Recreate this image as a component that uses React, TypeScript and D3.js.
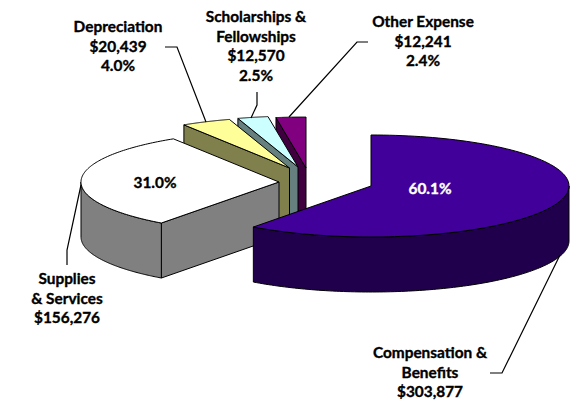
import React from "react";
import * as d3 from "d3";

const categories = ["Compensation & Benefits", "Supplies & Services", "Depreciation", "Scholarships & Fellowships", "Other Expense"];
const values = [303877, 156276, 20439, 12570, 12241];
const topColors = ["#400099", "#ffffff", "#ffff99", "#ccffff", "#800080"];
const sideColors = ["#20004d", "#808080", "#80804d", "#668080", "#400040"];
const apexX = [371, 279, 289.5, 298, 306];
const apexY = [186, 182, 168, 167, 168];
const labelLines = [
  { x: 430, y: 358, lines: ["Compensation &", "Benefits", "$303,877"], fill: "#000" },
  { x: 67, y: 284, lines: ["Supplies", "& Services", "$156,276"], fill: "#000" },
  { x: 118, y: 32, lines: ["Depreciation", "$20,439", "4.0%"], fill: "#000" },
  { x: 256, y: 22, lines: ["Scholarships &", "Fellowships", "$12,570", "2.5%"], fill: "#000" },
  { x: 423, y: 27, lines: ["Other Expense", "$12,241", "2.4%"], fill: "#000" },
  { x: 430, y: 194, lines: ["60.1%"], fill: "#fff" },
  { x: 155, y: 188, lines: ["31.0%"], fill: "#000" },
];
const leaders: [number, number][][] = [
  [[490, 373], [502, 373], [560, 255]],
  [[81, 185], [67, 250], [67, 265]],
  [[165, 47], [177, 47], [206, 122]],
  [[257, 92], [257, 105], [251, 118]],
  [[368, 42], [357, 42], [289, 117]],
];

const RX = 198;
const RY = 51;
const DEPTH = 55;
const font = "Lato, 'Open Sans', sans-serif";

const pie = d3.pie<number>().sort(null);
const arcs = pie(values);
const lineGen = d3.line<[number, number]>();

const pt = (i: number, a: number): [number, number] => [
  apexX[i] + RX * Math.sin(a),
  apexY[i] - RY * Math.cos(a),
];

function topPath(i: number) {
  const { startAngle, endAngle } = arcs[i];
  const pts = d3.range(0, 121).map((k) => pt(i, startAngle + ((endAngle - startAngle) * k) / 120));
  return lineGen([[apexX[i], apexY[i]], ...pts]) + "Z";
}
function outerWall(i: number, a0: number, a1: number) {
  const upper = d3.range(0, 121).map((k) => pt(i, a0 + ((a1 - a0) * k) / 120));
  const lower = upper.map(([x, y]) => [x, y + DEPTH] as [number, number]).reverse();
  return lineGen([...upper, ...lower]) + "Z";
}
function cutFace(i: number, a: number) {
  const [x, y] = pt(i, a);
  return lineGen([
    [apexX[i], apexY[i]],
    [x, y],
    [x, y + DEPTH],
    [apexX[i], apexY[i] + DEPTH],
  ]) + "Z";
}

const paintOrder = [4, 3, 2, 1, 0];

export default function App() {
  return (
    <svg
      width={576}
      height={403}
      style={{ position: "absolute", left: 0, top: 0, background: "#fff" }}
    >
      {paintOrder.map((i) => {
        const { startAngle, endAngle } = arcs[i];
        const common = { stroke: "#000", strokeWidth: 1, strokeLinejoin: "round" as const };
        return (
          <g key={categories[i]}>
            {i === 0 ? (
              <path d={outerWall(i, Math.PI / 2, endAngle)} fill={sideColors[i]} {...common} />
            ) : (
              <>
                <path d={cutFace(i, startAngle)} fill={sideColors[i]} {...common} />
                {i === 1 && (
                  <path d={outerWall(i, startAngle, (3 * Math.PI) / 2)} fill={sideColors[i]} {...common} />
                )}
              </>
            )}
            <path d={topPath(i)} fill={topColors[i]} {...common} />
          </g>
        );
      })}
      {leaders.map((l, i) => (
        <path key={i} d={lineGen(l) ?? ""} fill="none" stroke="#000" strokeWidth={1.2} />
      ))}
      {labelLines.map((t) => (
        <text
          key={t.lines[0]}
          x={t.x}
          y={t.y}
          textAnchor="middle"
          fontFamily={font}
          fontWeight={700}
          fontSize={15.4}
          fill={t.fill}
          stroke={t.fill}
          strokeWidth={0.35}
        >
          {t.lines.map((s, k) => (
            <tspan key={k} x={t.x} dy={k === 0 ? 0 : 19.7}>
              {s}
            </tspan>
          ))}
        </text>
      ))}
    </svg>
  );
}
